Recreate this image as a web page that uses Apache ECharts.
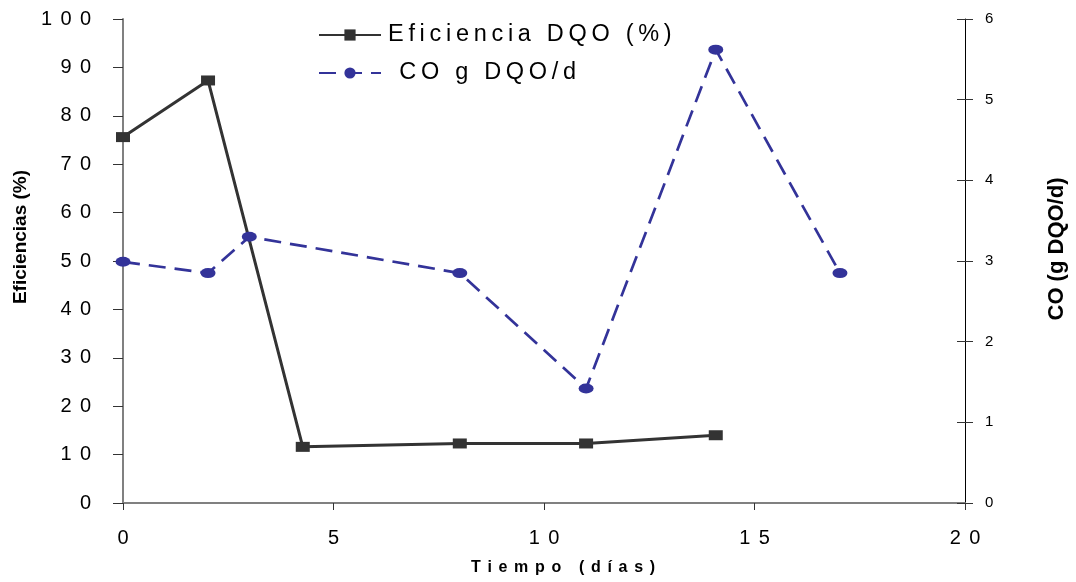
<!DOCTYPE html>
<html>
<head>
<meta charset="utf-8">
<script src="https://cdn.jsdelivr.net/npm/echarts@6/dist/echarts.min.js"></script>
<style>
  html, body { margin: 0; padding: 0; background: #ffffff; }
  #chart { width: 1076px; height: 582px; }
</style>
</head>
<body>
<div id="chart"></div>
<script>
// Eficiencia de remoción de DQO (%) por día
const diasEficiencia = [0, 2.02, 4.27, 8, 11, 14.08];
const eficienciaDQO = [75.6, 87.3, 11.6, 12.3, 12.3, 14.0];

// Carga orgánica (g DQO/d) por día
const diasCO = [0, 2.02, 3.0, 8, 11, 14.08, 17.03];
const cargaCO = [2.99, 2.85, 3.30, 2.85, 1.42, 5.62, 2.85];

const nombreEficiencia = 'Eficiencia DQO (%)';
const nombreCO = ' CO g DQO/d';
const tituloX = 'Tiempo (días)';
const tituloY1 = 'Eficiencias (%)';
const tituloY2 = 'CO (g DQO/d)';

// letter-spaced text, as in the original spreadsheet export
const WIDE = '\u2004\u200A';
const NARROW = '\u2009';
function spaced(s, g) { return Array.from(s).join(g); }

const FONT = '"Liberation Sans", Arial, sans-serif';

const chart = echarts.init(document.getElementById('chart'), null, { renderer: 'canvas' });

const pairs = (xs, ys) => xs.map((x, i) => [x, ys[i]]);

chart.setOption({
  backgroundColor: '#ffffff',
  animation: false,
  grid: { left: 123, right: 111, top: 19, bottom: 79, containLabel: false },
  legend: {
    orient: 'vertical',
    left: 313,
    top: 18,
    itemWidth: 62,
    itemHeight: 14,
    itemGap: 14,
    textStyle: { fontFamily: FONT, fontSize: 23.5, color: '#000000', padding: [0, 0, 0, 2] },
    formatter: name => spaced(name, NARROW),
    data: [nombreEficiencia, nombreCO]
  },
  xAxis: {
    type: 'value',
    min: 0,
    max: 20,
    interval: 5,
    name: spaced(tituloX, WIDE),
    nameLocation: 'middle',
    nameGap: 57,
    nameTextStyle: { fontFamily: FONT, fontSize: 16, fontWeight: 'bold', color: '#000000', padding: [0, 0, 0, 38] },
    axisLine: { onZero: false, lineStyle: { color: '#808080', width: 2 } },
    axisTick: { show: true, inside: false, length: 7, lineStyle: { color: '#333333', width: 1 } },
    axisLabel: {
      margin: 25,
      fontFamily: FONT, fontSize: 20, color: '#000000',
      formatter: v => spaced(String(v), WIDE)
    },
    splitLine: { show: false }
  },
  yAxis: [
    {
      type: 'value',
      min: 0,
      max: 100,
      interval: 10,
      position: 'left',
      name: tituloY1,
      nameLocation: 'middle',
      nameGap: 91,
      nameTextStyle: { fontFamily: FONT, fontSize: 19, fontWeight: 'bold', color: '#000000', padding: [0, 0, 0, 48] },
      axisLine: { show: true, lineStyle: { color: '#808080', width: 2 } },
      axisTick: { show: true, inside: false, length: 10, lineStyle: { color: '#333333', width: 1 } },
      axisLabel: {
        margin: 32,
        fontFamily: FONT, fontSize: 20, color: '#000000',
        formatter: v => spaced(String(v), WIDE)
      },
      splitLine: { show: false }
    },
    {
      type: 'value',
      min: 0,
      max: 6,
      interval: 1,
      position: 'right',
      name: tituloY2,
      nameLocation: 'middle',
      nameGap: 81,
      nameTextStyle: { fontFamily: FONT, fontSize: 22, fontWeight: 'bold', color: '#000000', padding: [0, 0, 0, 24] },
      axisLine: { show: true, lineStyle: { color: '#000000', width: 1 } },
      axisTick: { show: true, inside: false, length: 8, lineStyle: { color: '#333333', width: 1 } },
      axisLabel: { margin: 20, fontFamily: FONT, fontSize: 15, color: '#000000' },
      splitLine: { show: false }
    },
    {
      // inner half of the crossing tick marks on the secondary axis
      type: 'value',
      min: 0,
      max: 6,
      interval: 1,
      position: 'right',
      axisLine: { show: false },
      axisTick: { show: true, inside: true, length: 8, lineStyle: { color: '#333333', width: 1 } },
      axisLabel: { show: false },
      splitLine: { show: false }
    }
  ],
  series: [
    {
      name: nombreEficiencia,
      type: 'line',
      yAxisIndex: 0,
      data: pairs(diasEficiencia, eficienciaDQO),
      symbol: 'rect',
      symbolSize: [14, 10],
      showAllSymbol: true,
      color: '#333333',
      itemStyle: { color: '#333333' },
      lineStyle: { color: '#333333', width: 3, type: 'solid' },
      z: 2
    },
    {
      name: nombreCO,
      type: 'line',
      yAxisIndex: 1,
      data: pairs(diasCO, cargaCO),
      symbol: 'circle',
      symbolSize: [15, 10],
      showAllSymbol: true,
      color: '#333399',
      itemStyle: { color: '#333399' },
      lineStyle: { color: '#333399', width: 2.7, type: [17, 9] },
      z: 3
    }
  ]
});
</script>
</body>
</html>
